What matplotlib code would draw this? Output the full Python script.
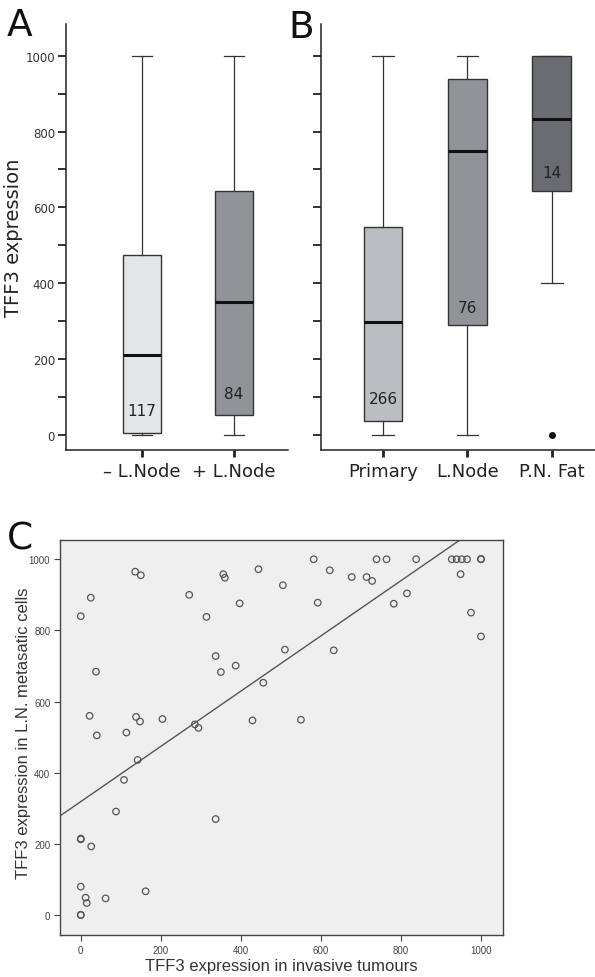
import matplotlib
matplotlib.use("Agg")
import matplotlib.pyplot as plt
import numpy as np

# ---- panel A data (box stats)
a_labels = ["\u2013 L.Node", "+ L.Node"]
a_whislo = [0, 0]
a_q1 = [5, 53]
a_med = [211, 351]
a_q3 = [475, 644]
a_whishi = [1000, 1000]
a_n = ["117", "84"]
a_n_y = [63, 108]
a_colors = ["#e4e5e7", "#929396"]

# ---- panel B data
b_labels = ["Primary", "L.Node", "P.N. Fat"]
b_whislo = [0, 0, 401]
b_q1 = [37, 290, 644]
b_med = [298, 750, 834]
b_q3 = [548, 939, 1000]
b_whishi = [1000, 1000, 1000]
b_fliers = [[], [], [0]]
b_n = ["266", "76", "14"]
b_n_y = [95, 335, 691]
b_colors = ["#bcbdc0", "#929396", "#6b6c70"]

# ---- panel C data
c_x = [0, 25, 136, 150, 38, 22, 40, 0, 0, 26, 0, 12, 15, 62, 0, 0, 162, 88, 108,
       114, 138, 148, 142, 204, 271, 285, 294, 314, 337, 350, 337, 356, 360, 387,
       397, 444, 429, 456, 505, 510, 550, 582, 592, 622, 632, 677, 714, 728, 739,
       764, 782, 815, 838, 927, 939, 952, 965, 949, 975, 1000, 1000, 1000]
c_y = [840, 892, 965, 955, 684, 560, 505, 215, 213, 193, 80, 49, 34, 47, 0, 1, 67,
       291, 380, 513, 557, 544, 436, 551, 900, 536, 526, 838, 728, 683, 270, 958,
       948, 701, 876, 972, 547, 653, 927, 746, 549, 1000, 878, 969, 744, 950, 950,
       939, 1000, 1000, 875, 904, 1000, 1000, 1000, 1000, 1000, 958, 850, 1000,
       1001, 783]
fit_intercept = 319
fit_slope = 0.776

fig = plt.figure(figsize=(5.95, 9.78), dpi=100)


def make_stats(whislo, q1, med, q3, whishi, fliers=None):
    stats = []
    for i in range(len(med)):
        stats.append(dict(whislo=whislo[i], q1=q1[i], med=med[i], q3=q3[i],
                          whishi=whishi[i],
                          fliers=fliers[i] if fliers else []))
    return stats


def box_panel(ax, stats, colors, width, labels, nums, nums_y, show_labels):
    bp = ax.bxp(stats, widths=width, patch_artist=True, capwidths=width * 0.55,
                boxprops=dict(edgecolor="#333333", linewidth=1.0),
                whiskerprops=dict(color="#333333", linewidth=0.9),
                capprops=dict(color="#333333", linewidth=0.9),
                medianprops=dict(color="#111111", linewidth=2.2),
                flierprops=dict(marker="o", markerfacecolor="#111111",
                                markeredgecolor="#111111", markersize=4))
    for patch, c in zip(bp["boxes"], colors):
        patch.set_facecolor(c)
    for i, (t, yy) in enumerate(zip(nums, nums_y)):
        ax.text(i + 1, yy, t, ha="center", va="center", fontsize=11, color="#222222")
    ax.set_ylim(-40, 1084)
    for s in ["top", "right"]:
        ax.spines[s].set_visible(False)
    for s in ["left", "bottom"]:
        ax.spines[s].set_linewidth(1.1)
        ax.spines[s].set_color("#222222")
    ticks = np.arange(0, 1001, 100)
    ax.set_yticks(ticks)
    if show_labels:
        ax.set_yticklabels([str(t) if t % 200 == 0 else "" for t in ticks],
                           fontsize=8.5, color="#333333")
    else:
        ax.set_yticklabels([])
    ax.tick_params(axis="y", length=6, width=1.3, color="#222222", pad=2)
    ax.tick_params(axis="x", length=5, width=2, color="#222222", pad=4)
    ax.set_xticks(range(1, len(labels) + 1))
    ax.set_xticklabels(labels, fontsize=13, color="#222222")


# Panel A
axA = fig.add_axes([0.111, 0.5389, 0.373, 0.4356])
box_panel(axA, make_stats(a_whislo, a_q1, a_med, a_q3, a_whishi), a_colors, 0.41,
          a_labels, a_n, a_n_y, True)
axA.set_xlim(0.174, 2.587)
axA.set_ylabel("TFF3 expression", fontsize=14, color="#222222", labelpad=2)

# Panel B
axB = fig.add_axes([0.5395, 0.5389, 0.4605, 0.4356])
box_panel(axB, make_stats(b_whislo, b_q1, b_med, b_q3, b_whishi, b_fliers), b_colors,
          0.46, b_labels, b_n, b_n_y, False)
axB.set_xlim(0.266, 3.51)

# Panel C
axC = fig.add_axes([0.1008, 0.0429, 0.7446, 0.4039])
axC.set_facecolor("#efefef")
axC.scatter(c_x, c_y, s=22, facecolors="none", edgecolors="#555555", linewidths=0.9,
            zorder=3)
xl = np.array([-52, 1055])
axC.plot(xl, fit_intercept + fit_slope * xl, color="#555555", linewidth=1.0, zorder=2)
axC.set_xlim(-52, 1055)
axC.set_ylim(-56, 1054)
axC.set_xticks(range(0, 1001, 200))
axC.set_yticks(range(0, 1001, 200))
axC.tick_params(labelsize=7, labelcolor="#444444", length=4, width=0.8,
                color="#444444", pad=3)
for lab in axC.get_xticklabels() + axC.get_yticklabels():
    lab.set_family("Liberation Sans")
for s in axC.spines.values():
    s.set_color("#444444")
    s.set_linewidth(1.0)
axC.set_xlabel("TFF3 expression in invasive tumours", fontsize=12, color="#333333",
               family="Liberation Sans")
axC.set_ylabel("TFF3 expression in L.N. metasatic cells", fontsize=12,
               color="#333333", family="Liberation Sans")
axC.xaxis.set_label_coords(0.5, -0.057)
axC.yaxis.set_label_coords(-0.066, 0.514)

# panel letters
fig.text(0.012, 0.992, "A", fontsize=27, va="top", ha="left", color="#111111")
fig.text(0.485, 0.990, "B", fontsize=27, va="top", ha="left", color="#111111")
fig.text(0.012, 0.467, "C", fontsize=27, va="top", ha="left", color="#111111")

fig.savefig("out.png", dpi=100)
